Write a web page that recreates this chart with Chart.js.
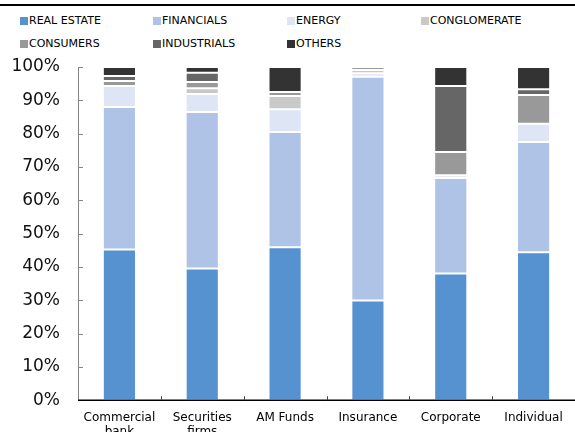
<!DOCTYPE html>
<html>
<head>
<meta charset="utf-8">
<script src="https://cdn.jsdelivr.net/npm/chart.js@4"></script>
<style>
    html, body { margin: 0; padding: 0; background: #fff; overflow: hidden; }
    body { width: 575px; height: 432px; position: relative; font-family: "DejaVu Sans", sans-serif; }
    .top-rule { position: absolute; left: 0; top: 4px; width: 575px; height: 2px; background: #000; }
    .legend { position: absolute; left: 0; top: 0; width: 575px; height: 60px; }
    .legend-item { position: absolute; display: flex; align-items: center; font-size: 11px; color: #000; white-space: nowrap; }
    .legend-box { width: 8px; height: 8px; margin-right: 1px; }
    #chartWrap { position: absolute; left: 0; top: 0; width: 575px; height: 450px; }
</style>
</head>
<body>
<div class="top-rule"></div>
<div class="legend" id="legend"></div>
<div id="chartWrap"><canvas id="shareChart"></canvas></div>

<script>
// Data (% of holdings)
const categories = [['Commercial', 'bank'], ['Securities', 'firms'], 'AM Funds', 'Insurance', 'Corporate', 'Individual'];
const realEstate   = [45.2, 39.5, 45.9, 29.9, 38.0, 44.4];
const financials   = [42.8, 47.0, 34.6, 67.2, 28.7, 33.1];
const energy       = [6.3, 5.4, 6.8, 1.0, 0.8, 5.5];
const conglomerate = [0.0, 1.7, 4.0, 1.0, 0.0, 0.0];
const consumers    = [1.5, 1.9, 1.2, 0.9, 7.0, 8.6];
const industrials  = [1.5, 2.8, 0.0, 0.0, 19.8, 1.7];
const others       = [2.7, 1.7, 7.5, 0.0, 5.7, 6.7];
const yTicks = [0, 10, 20, 30, 40, 50, 60, 70, 80, 90, 100];

const series = [
    { label: 'REAL ESTATE', data: realEstate, color: '#5592CF' },
    { label: 'FINANCIALS', data: financials, color: '#AEC3E5' },
    { label: 'ENERGY', data: energy, color: '#DEE6F6' },
    { label: 'CONGLOMERATE', data: conglomerate, color: '#C9C9C9' },
    { label: 'CONSUMERS', data: consumers, color: '#999999' },
    { label: 'INDUSTRIALS', data: industrials, color: '#666666' },
    { label: 'OTHERS', data: others, color: '#333333' }
];

// Legend in a 4-column grid like the original
const legendCols = [20, 153, 287, 421];
const legendRows = [14, 37];
const legendEl = document.getElementById('legend');
series.forEach((s, i) => {
    const item = document.createElement('div');
    item.className = 'legend-item';
    item.style.left = legendCols[i % 4] + 'px';
    item.style.top = legendRows[Math.floor(i / 4)] + 'px';
    item.innerHTML = '<span class="legend-box" style="background:' + s.color + '"></span>' + s.label;
    legendEl.appendChild(item);
});

// Axis lines with inward tick marks
const axisPlugin = {
    id: 'axisLines',
    afterDatasetsDraw(chart) {
        const ctx = chart.ctx;
        const x = chart.scales.x;
        const y = chart.scales.y;
        const area = chart.chartArea;
        ctx.save();

        // y axis
        ctx.strokeStyle = '#868686';
        ctx.lineWidth = 1;
        ctx.beginPath();
        ctx.moveTo(area.left + 0.5, y.getPixelForValue(100));
        ctx.lineTo(area.left + 0.5, y.getPixelForValue(0));
        yTicks.forEach(v => {
            const py = Math.round(y.getPixelForValue(v)) + 0.5;
            ctx.moveTo(area.left, py);
            ctx.lineTo(area.left + 5, py);
        });
        ctx.stroke();

        // x axis
        ctx.strokeStyle = '#000';
        ctx.lineWidth = 1.5;
        const base = y.getPixelForValue(0);
        ctx.beginPath();
        ctx.moveTo(area.left, base);
        ctx.lineTo(area.right, base);
        ctx.stroke();
        ctx.lineWidth = 1;
        ctx.strokeStyle = '#444';
        ctx.beginPath();
        for (let i = 0; i < categories.length - 1; i++) {
            const px = Math.round((x.getPixelForValue(i) + x.getPixelForValue(i + 1)) / 2) + 0.5;
            ctx.moveTo(px, base);
            ctx.lineTo(px, base - 4);
        }
        ctx.stroke();
        ctx.restore();
    }
};

document.addEventListener('DOMContentLoaded', function() {
    const ctx = document.getElementById('shareChart').getContext('2d');
    new Chart(ctx, {
        type: 'bar',
        data: {
            labels: categories,
            datasets: series.map(s => ({
                label: s.label,
                data: s.data,
                backgroundColor: s.color,
                borderColor: 'rgba(255, 255, 255, 0.25)',
                borderWidth: 1,
                borderSkipped: false,
                categoryPercentage: 1,
                barPercentage: 0.4
            }))
        },
        options: {
            responsive: true,
            maintainAspectRatio: false,
            animation: false,
            layout: {
                padding: { top: 67, right: 0, bottom: 1, left: 0 }
            },
            plugins: {
                legend: { display: false },
                tooltip: { enabled: false }
            },
            scales: {
                x: {
                    stacked: true,
                    grid: { display: false, drawTicks: false },
                    border: { display: false },
                    ticks: {
                        color: '#000',
                        padding: 10,
                        maxRotation: 0,
                        autoSkip: false,
                        font: { family: 'DejaVu Sans', size: 12 }
                    }
                },
                y: {
                    stacked: true,
                    min: 0,
                    max: 100,
                    grid: { display: false, drawTicks: false },
                    border: { display: false },
                    afterBuildTicks: function(axis) {
                        axis.ticks = yTicks.map(v => ({ value: v }));
                    },
                    afterFit: function(axis) {
                        axis.width = 78;
                    },
                    ticks: {
                        color: '#111',
                        padding: 18,
                        font: { family: 'DejaVu Sans', size: 17 },
                        callback: function(value) {
                            return value + '%';
                        }
                    }
                }
            }
        },
        plugins: [axisPlugin]
    });
});
</script>
</body>
</html>
